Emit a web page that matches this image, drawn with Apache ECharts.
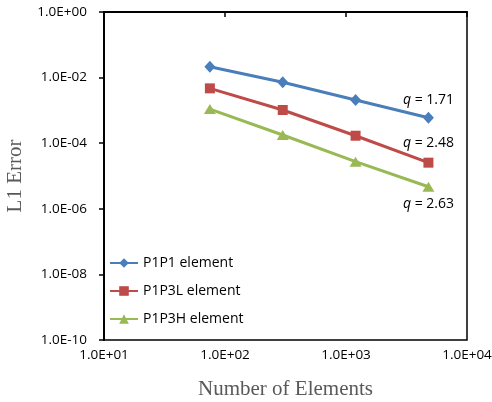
<!DOCTYPE html>
<html>
<head>
<meta charset="utf-8">
<script src="https://cdn.jsdelivr.net/npm/echarts@6/dist/echarts.min.js"></script>
<style>
html,body{margin:0;padding:0;background:#fff;}
#chart{width:492px;height:402px;}
</style>
</head>
<body>
<div id="chart"></div>
<script>
// number of elements (same for all three meshes)
var elements = [75, 300, 1200, 4800];
// L1 error per element type
var errP1P1  = [2.15e-2, 7.2e-3, 2.07e-3, 6.0e-4];
var errP1P3L = [4.7e-3, 1.03e-3, 1.69e-4, 2.55e-5];
var errP1P3H = [1.1e-3, 1.78e-4, 2.73e-5, 4.7e-6];
var seriesNames = ['P1P1 element', 'P1P3L element', 'P1P3H element'];
var rates = ['1.71', '2.48', '2.63'];

var colors = ['#4a7ebb', '#be4b48', '#98b954'];
var symbols = ['diamond', 'rect', 'triangle'];
var symSizes = [[11, 12], 10, [12, 10]];
var labelPos = ['top', 'top', 'bottom'];
var labelDist = [5, 8, 5];

var myChart = echarts.init(document.getElementById('chart'));

function expLabel(v) {
	var n = Math.round(v);
	var s = n < 0 ? '-' : '+';
	var a = Math.abs(n);
	return '1.0E' + s + (a < 10 ? '0' + a : a);
}

function buildData(errs, idx) {
	var out = [];
	for (var i = 0; i < elements.length; i++) {
		var item = { value: [Math.log10(elements[i]), Math.log10(errs[i])] };
		if (i == elements.length - 1) {
			item.label = {
				show: true,
				position: labelPos[idx],
				distance: labelDist[idx],
				formatter: '{q|q} = ' + rates[idx],
				color: '#000',
				fontFamily: 'Open Sans',
				fontSize: 14,
				rich: { q: { fontStyle: 'italic', fontFamily: 'Open Sans', fontSize: 14, color: '#000' } }
			};
		}
		out.push(item);
	}
	return out;
}

var allErr = [errP1P1, errP1P3L, errP1P3H];
var series = [];
for (var k = 0; k < 3; k++) {
	series.push({
		name: seriesNames[k],
		type: 'line',
		symbol: symbols[k],
		symbolSize: symSizes[k],
		showAllSymbol: true,
		lineStyle: { width: 3, color: colors[k] },
		itemStyle: { color: colors[k] },
		emphasis: { disabled: true },
		data: buildData(allErr[k], k)
	});
}

var option = {
	animation: false,
	grid: {
		left: 104, right: 25, top: 12, bottom: 62,
		outerBoundsMode: 'none',
		containLabel: false,
		show: true, borderColor: '#000', borderWidth: 1.5
	},
	legend: {
		orient: 'vertical',
		left: 104,
		top: 251,
		itemWidth: 28,
		itemHeight: 12,
		itemGap: 14,
		textStyle: { color: '#000', fontFamily: 'Open Sans', fontSize: 14 },
		data: seriesNames
	},
	xAxis: {
		type: 'value',
		min: 1, max: 4, interval: 1,
		name: 'Number of Elements',
		nameLocation: 'middle',
		nameGap: 39,
		nameTextStyle: { fontFamily: 'Liberation Serif', fontSize: 21, color: '#595959' },
		axisLine: { lineStyle: { color: '#000', width: 2 } },
		axisTick: { inside: false, length: 5, lineStyle: { color: '#000', width: 1.5 } },
		axisLabel: { margin: 8, color: '#000', fontFamily: 'Open Sans', fontSize: 13.5, formatter: expLabel },
		splitLine: { show: false }
	},
	yAxis: {
		type: 'value',
		min: -10, max: 0, interval: 2,
		name: 'L1 Error',
		nameLocation: 'middle',
		nameGap: 76,
		nameTextStyle: { fontFamily: 'Liberation Serif', fontSize: 21, color: '#595959' },
		axisLine: { lineStyle: { color: '#000', width: 2 } },
		axisTick: { inside: false, length: 5, lineStyle: { color: '#000', width: 1.5 } },
		axisLabel: { margin: 17, color: '#000', fontFamily: 'Open Sans', fontSize: 13.5, formatter: expLabel },
		splitLine: { show: false }
	},
	series: series
};

myChart.setOption(option);
</script>
</body>
</html>
